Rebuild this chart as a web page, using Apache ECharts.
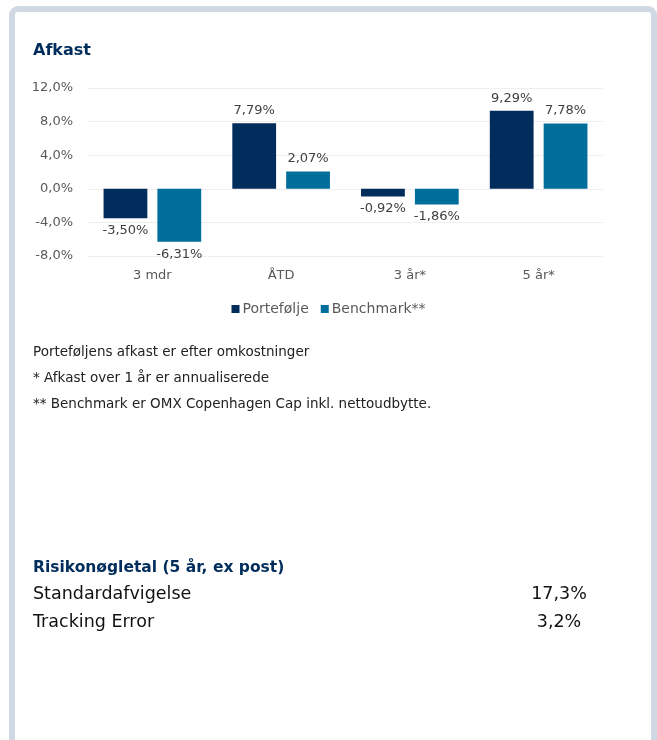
<!DOCTYPE html>
<html>
<head>
<meta charset="utf-8">
<script src="https://cdn.jsdelivr.net/npm/echarts@6/dist/echarts.min.js"></script>
<style>
html,body{margin:0;padding:0;background:#fff;}
#c{width:657px;height:740px;}
</style>
</head>
<body>
<div id="c"></div>
<script>
const categories = ['3 mdr', 'ÅTD', '3 år*', '5 år*'];
const portefolje = [-3.50, 7.79, -0.92, 9.29];
const benchmark = [-6.31, 2.07, -1.86, 7.78];
const seriesNames = ['Portefølje', 'Benchmark**'];
const yTicks = { min: -8, max: 12, interval: 4 };
const footnotes = [
  'Porteføljens afkast er efter omkostninger',
  '* Afkast over 1 år er annualiserede',
  '** Benchmark er OMX Copenhagen Cap inkl. nettoudbytte.'
];
const riskTitle = 'Risikonøgletal (5 år, ex post)';
const riskLabels = ['Standardafvigelse', 'Tracking Error'];
const riskValues = ['17,3%', '3,2%'];

const FONT = 'DejaVu Sans';
const NAVY = '#002d5c';
const TEAL = '#006e9b';

function fmt(v, d) { return v.toFixed(d).replace('.', ',') + '%'; }

function labelCfg(data) {
  return data.map(v => ({
    value: v,
    label: { position: v >= 0 ? 'top' : 'bottom' }
  }));
}

const graphics = [
  { type: 'rect', shape: { x: 12, y: 9, width: 642, height: 800, r: 6 },
    style: { fill: 'none', stroke: '#cfd8e3', lineWidth: 6 }, z: -1 }
];
footnotes.forEach((t, i) => {
  graphics.push({ type: 'text', x: 33, y: 352 + i * 26,
    style: { text: t, font: '13.5px "' + FONT + '"', fill: '#222', verticalAlign: 'middle' } });
});
graphics.push({ type: 'text', x: 33, y: 568,
  style: { text: riskTitle, font: 'bold 15.5px "' + FONT + '"', fill: NAVY, verticalAlign: 'middle' } });
riskLabels.forEach((t, i) => {
  graphics.push({ type: 'text', x: 33, y: 594 + i * 28,
    style: { text: t, font: '17.5px "' + FONT + '"', fill: '#111', verticalAlign: 'middle' } });
  graphics.push({ type: 'text', x: 559, y: 594 + i * 28,
    style: { text: riskValues[i], font: '17.5px "' + FONT + '"', fill: '#111', align: 'center', verticalAlign: 'middle' } });
});

const chart = echarts.init(document.getElementById('c'), null, { renderer: 'canvas' });
chart.setOption({
  animation: false,
  backgroundColor: '#fff',
  textStyle: { fontFamily: FONT },
  title: { text: 'Afkast', left: 28, top: 38,
    textStyle: { fontFamily: FONT, fontSize: 16, fontWeight: 'bold', color: NAVY } },
  legend: {
    data: seriesNames, top: 297, left: 'center',
    icon: 'rect', itemWidth: 8, itemHeight: 8, itemGap: 12,
    textStyle: { fontFamily: FONT, fontSize: 14, color: '#595959', padding: [0, 0, 0, -2] }
  },
  grid: { left: 88, right: 54, top: 88, bottom: 484, containLabel: false },
  xAxis: {
    type: 'category', data: categories,
    axisLine: { show: false }, axisTick: { show: false },
    axisLabel: { color: '#595959', fontSize: 13, fontFamily: FONT, margin: 13 }
  },
  yAxis: {
    type: 'value', min: yTicks.min, max: yTicks.max, interval: yTicks.interval,
    axisLine: { show: false }, axisTick: { show: false },
    splitLine: { lineStyle: { color: '#eeeeee', width: 1 } },
    axisLabel: { color: '#595959', fontSize: 13, fontFamily: FONT, margin: 15,
      formatter: v => fmt(v, 1) }
  },
  series: [
    { name: seriesNames[0], type: 'bar', data: labelCfg(portefolje),
      itemStyle: { color: NAVY }, barWidth: '34%', barGap: '23%',
      label: { show: true, color: '#404040', fontSize: 13, fontFamily: FONT, distance: 6,
        formatter: p => fmt(p.value, 2) } },
    { name: seriesNames[1], type: 'bar', data: labelCfg(benchmark),
      itemStyle: { color: TEAL }, barWidth: '34%',
      label: { show: true, color: '#404040', fontSize: 13, fontFamily: FONT, distance: 6,
        formatter: p => fmt(p.value, 2) } }
  ],
  graphic: graphics
});
</script>
</body>
</html>
